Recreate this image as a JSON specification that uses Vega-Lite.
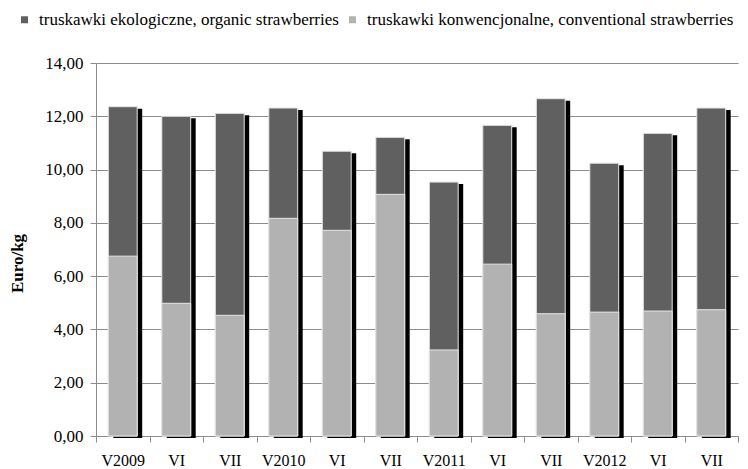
{
  "$schema": "https://vega.github.io/schema/vega-lite/v6.json",
  "autosize": "none",
  "width": 642,
  "height": 373,
  "padding": {"left": 96, "top": 63, "right": 10, "bottom": 33},
  "background": "white",
  "config": {
    "view": {"stroke": null},
    "font": "Liberation Serif",
    "axis": {"labelFont": "Liberation Serif", "titleFont": "Liberation Serif", "labelColor": "black", "titleColor": "black"},
    "legend": {"labelFont": "Liberation Serif"}
  },
  "data": {
    "values": [
      {"period": "V2009", "organic": 12.36, "conventional": 6.75},
      {"period": "VI-2009", "organic": 12.00, "conventional": 4.98},
      {"period": "VII-2009", "organic": 12.11, "conventional": 4.53},
      {"period": "V2010", "organic": 12.31, "conventional": 8.17},
      {"period": "VI-2010", "organic": 10.69, "conventional": 7.72},
      {"period": "VII-2010", "organic": 11.21, "conventional": 9.07},
      {"period": "V2011", "organic": 9.53, "conventional": 3.23},
      {"period": "VI-2011", "organic": 11.66, "conventional": 6.45},
      {"period": "VII-2011", "organic": 12.66, "conventional": 4.59},
      {"period": "V2012", "organic": 10.24, "conventional": 4.65},
      {"period": "VI-2012", "organic": 11.36, "conventional": 4.69},
      {"period": "VII-2012", "organic": 12.31, "conventional": 4.74}
    ]
  },
  "encoding": {
    "x": {
      "field": "period", "type": "nominal", "sort": null,
      "scale": {"paddingInner": 0, "paddingOuter": 0},
      "axis": {
        "title": null, "labelAngle": 0, "labelFontSize": 16, "labelFont": "Liberation Serif",
        "labelExpr": "split(datum.label, '-')[0]",
        "tickBand": "extent", "tickSize": 6, "tickColor": "#8c8c8c",
        "domainColor": "#8c8c8c", "labelPadding": 10, "grid": false
      }
    }
  },
  "layer": [
    {
      "mark": {"type": "bar", "color": "black", "width": {"band": 0.54}, "xOffset": 5, "yOffset": 2},
      "encoding": {
        "y": {
          "field": "organic", "type": "quantitative",
          "scale": {"domain": [0, 14], "nice": false},
          "axis": {
            "values": [0, 2, 4, 6, 8, 10, 12, 14],
            "labelExpr": "replace(format(datum.value, '.2f'), '.', ',')",
            "labelFont": "Liberation Serif", "titleFont": "Liberation Serif",
            "labelFontSize": 17, "tickSize": 6, "tickColor": "#8c8c8c",
            "domainColor": "#8c8c8c", "gridColor": "#8c8c8c", "grid": true,
            "labelPadding": 7, "title": "Euro/kg", "titleFontSize": 17,
            "titleFontWeight": "bold", "titlePadding": 18, "titleY": 200
          }
        }
      }
    },
    {
      "mark": {"type": "bar", "width": {"band": 0.54}, "stroke": "#e6e6e6", "strokeWidth": 1},
      "encoding": {
        "y": {"field": "organic", "type": "quantitative"},
        "color": {
          "datum": "truskawki ekologiczne, organic strawberries",
          "scale": {
            "domain": ["truskawki ekologiczne, organic strawberries", "truskawki konwencjonalne, conventional strawberries"],
            "range": ["#606060", "#b2b2b2"]
          },
          "legend": {
            "title": null, "orient": "none", "direction": "horizontal",
            "legendX": -80, "legendY": -52, "padding": 0,
            "symbolType": "square", "symbolSize": 49, "symbolStrokeWidth": 0,
            "labelFont": "Liberation Serif", "labelFontSize": 17, "labelColor": "black",
            "labelLimit": 500, "labelOffset": 6, "columnPadding": 5
          }
        }
      }
    },
    {
      "mark": {"type": "bar", "width": {"band": 0.54}, "stroke": "#e6e6e6", "strokeWidth": 1},
      "encoding": {
        "y": {"field": "conventional", "type": "quantitative"},
        "color": {"datum": "truskawki konwencjonalne, conventional strawberries"}
      }
    }
  ]
}
